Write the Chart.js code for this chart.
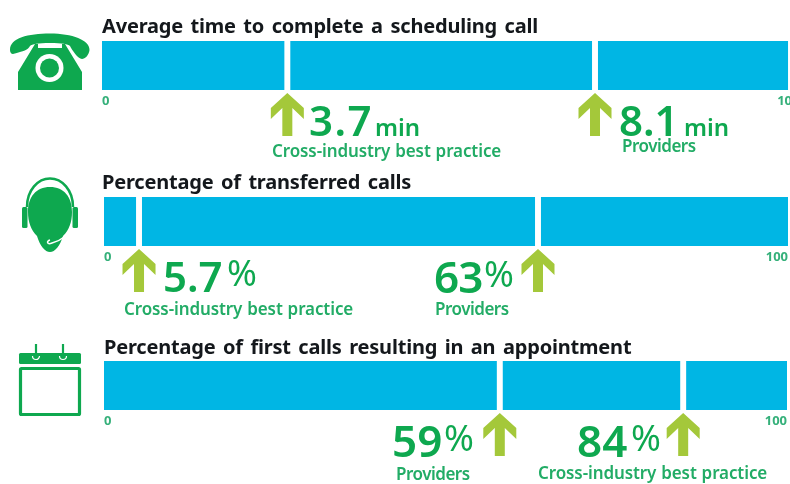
<!DOCTYPE html>
<html><head><meta charset="utf-8">
<script src="https://cdn.jsdelivr.net/npm/chart.js@4"></script>
<style>
html,body{margin:0;padding:0;background:#fff;width:790px;height:484px;overflow:hidden}
#stage{position:absolute;left:0;top:0;width:790px;height:484px;overflow:hidden;filter:blur(0.4px)}
canvas{position:absolute;left:0}
svg{position:absolute;left:0;top:0}
</style></head><body>
<div id="stage">
<svg width="790" height="484" viewBox="0 0 790 484">
  <g fill="#0EA84F">
    <path d="M10 50C10 38 28 33.5 50 33.5S90 40 89.5 50C89 55 85 59 82 59 78 59 72 50 70 46 68 44 62 43 50 43S32 44 30 46C28 50 24 51 13 54 11 54 10 52 10 50Z"/>
    <path d="M35 44H38V48H62V44H65L82 72V90H18V72Z"/>
  </g>
  <circle cx="49.5" cy="68" r="14" fill="#fff"/><circle cx="49.5" cy="68" r="9.5" fill="#0EA84F"/>

  <path fill="#0EA84F" d="M50 187C64 187 72 197 72 212 72 222 69 230 63 236 60 246 55 252 50 252 45 252 40 246 37 236 31 230 28 222 28 212 28 197 36 187 50 187Z"/>
  <path fill="none" stroke="#0EA84F" stroke-width="2.5" d="M27 207C27 190 38 178.5 50 178.5S73 190 73 207"/>
  <rect x="22" y="207" width="5.5" height="21" rx="1.5" fill="#0EA84F"/><rect x="72.5" y="207" width="5.5" height="21" rx="1.5" fill="#0EA84F"/>
  <path fill="none" stroke="#fff" stroke-width="1.5" d="M71 225C70 235 60 241 52 243 47 245 46 241 50 240"/>

  <rect x="19" y="353" width="62" height="11" rx="1.5" fill="#0EA84F"/>
  <rect x="20.5" y="368.5" width="59" height="46" rx="1" fill="#fff" stroke="#0EA84F" stroke-width="3.2"/>
  <path d="M36 344V358M63 344V358" stroke="#0EA84F" stroke-width="2.2" fill="none"/>
  <path d="M32.5 356a3.5 3.5 0 0 0 7 0M59.5 356a3.5 3.5 0 0 0 7 0" stroke="#fff" stroke-width="1.2" fill="none"/>
</svg>
<canvas id="c1"></canvas><canvas id="c2"></canvas><canvas id="c3"></canvas>
</div>
<script>
// ---- data ----
const titles = [
  "Average time to complete a scheduling call",
  "Percentage of transferred calls",
  "Percentage of first calls resulting in an appointment"
];
const axisMax = [10, 100, 100];
const axisTickLabels = [["0", "10"], ["0", "100"], ["0", "100"]];
// where each marker sits on its drawn bar, in axis units (the original graphic is not to scale in panel 1)
const markerAxisPositions1 = [2.686, 7.145];
const markerAxisPositions2 = [5.12, 63.45];
const markerAxisPositions3 = [57.95, 84.8];
const markerValues1 = ["3.7", "8.1"];
const markerValues2 = ["5.7", "63"];
const markerValues3 = ["59", "84"];
const markerUnits1 = ["min", "min"];
const markerUnits2 = ["%", "%"];
const markerUnits3 = ["%", "%"];
const markerCaptions1 = ["Cross-industry best practice", "Providers"];
const markerCaptions2 = ["Cross-industry best practice", "Providers"];
const markerCaptions3 = ["Providers", "Cross-industry best practice"];
const barEnd = [9.94, 100, 100];

// ---- layout and style ----
const CYAN = "#00B6E4", GREEN = "#0EA84F", LIGHTGREEN = "#22AC66", ARROW = "#A4C83A", TICK = "#35B07A";
const FONT = "'Noto Sans'";
const panels = [
  {id:"c1", left:102, right:792, top:41, titleX:102, titleY:33, vals:markerValues1, units:markerUnits1, caps:markerCaptions1, pos:markerAxisPositions1,
   place:[{vx:309,vs:42,vl:1.5,ux:375,by:136,cx:272,cy:157},{vx:619,vs:42,vl:0,ux:684,by:136,cx:622,cy:152}]},
  {id:"c2", left:104, right:788, top:197, titleX:102, titleY:189, vals:markerValues2, units:markerUnits2, caps:markerCaptions2, pos:markerAxisPositions2,
   place:[{vx:163,vs:42,vl:0,ux:227,by:292,cx:124,cy:315},{vx:434,vs:44,vl:-1,ux:484,by:293,cx:435,cy:315}]},
  {id:"c3", left:104, right:787, top:361, titleX:104, titleY:354, vals:markerValues3, units:markerUnits3, caps:markerCaptions3, pos:markerAxisPositions3,
   place:[{vx:392,vs:44,vl:0,ux:444,by:457,cx:396,cy:480},{vx:577,vs:44,vl:0,ux:631,by:457,cx:538,cy:479}]}
];
const BAR_H = 49, AXIS_H = 90, GAP = 3.3;

function arrow(ctx, x, apex, bottom) {
  ctx.fillStyle = ARROW;
  ctx.beginPath();
  ctx.moveTo(x, apex);
  ctx.lineTo(x + 16.5, apex + 15);
  ctx.lineTo(x + 16.5, apex + 26);
  ctx.lineTo(x + 5, apex + 15);
  ctx.lineTo(x + 5, bottom);
  ctx.lineTo(x - 5, bottom);
  ctx.lineTo(x - 5, apex + 15);
  ctx.lineTo(x - 16.5, apex + 26);
  ctx.lineTo(x - 16.5, apex + 15);
  ctx.closePath();
  ctx.fill();
}

panels.forEach((p, i) => {
  const cv = document.getElementById(p.id);
  const H = p.top + BAR_H + AXIS_H, W = 810;
  cv.width = W; cv.height = H; cv.style.top = "0px"; cv.style.width = W + "px"; cv.style.height = H + "px";
  const edges = [0, ...p.pos, barEnd[i]];
  const datasets = edges.slice(1).map((e, k) => ({
    data: [e - edges[k]],
    backgroundColor: CYAN,
    borderColor: "rgba(255,255,255,1)",
    borderSkipped: false,
    borderWidth: {top:0, bottom:0, left: k === 0 ? 0 : GAP, right: k === edges.length - 2 ? 0 : GAP},
    barPercentage: 1, categoryPercentage: 1
  }));
  const overlay = {
    id: "overlay",
    afterDraw(chart) {
      const ctx = chart.ctx, sx = chart.scales.x;
      ctx.save();
      ctx.textBaseline = "alphabetic"; ctx.textAlign = "left";
      ctx.fillStyle = "#14181c";
      ctx.font = "700 20px " + FONT;
      ctx.letterSpacing = "-0.19px"; ctx.wordSpacing = "2.5px";
      ctx.fillText(titles[i], p.titleX, p.titleY);
      ctx.wordSpacing = "0px";
      p.pos.forEach((v, k) => {
        const x = sx.getPixelForValue(v), pl = p.place[k];
        arrow(ctx, x, p.top + BAR_H + 3, p.top + BAR_H + 46);
        ctx.fillStyle = GREEN; ctx.letterSpacing = pl.vl + "px";
        ctx.font = "600 " + pl.vs + "px " + FONT;
        ctx.fillText(p.vals[k], pl.vx, pl.by);
        ctx.letterSpacing = "0px";
        const isPct = p.units[k] === "%";
        ctx.font = isPct ? "400 36px " + FONT : "600 24px " + FONT;
        ctx.fillText(p.units[k], pl.ux, isPct ? pl.by - 6 : pl.by);
        ctx.fillStyle = LIGHTGREEN;
        ctx.font = "600 17px " + FONT;
        const isLong = p.caps[k].length > 12;
        ctx.letterSpacing = isLong ? "-0.1px" : "-0.5px";
        ctx.wordSpacing = isLong ? "0.6px" : "0px";
        ctx.fillText(p.caps[k], pl.cx, pl.cy);
        ctx.wordSpacing = "0px";
      });
      ctx.restore();
    }
  };
  new Chart(cv, {
    type: "bar",
    data: {labels: [titles[i]], datasets},
    plugins: [overlay],
    options: {
      indexAxis: "y", responsive: false, animation: false,
      layout: {padding: {left: p.left, right: W - p.right, top: p.top, bottom: 0}},
      plugins: {legend: {display: false}, title: {display: false}, tooltip: {enabled: false}},
      scales: {
        y: {display: false, stacked: true},
        x: {
          stacked: true, min: 0, max: axisMax[i],
          grid: {display: false, drawTicks: false}, border: {display: false},
          afterBuildTicks: s => { s.ticks = [{value: 0}, {value: axisMax[i]}]; },
          afterFit: s => { s.height = AXIS_H; },
          ticks: {
            align: "inner", maxRotation: 0, autoSkip: false, padding: 3,
            color: TICK, font: {family: "'Noto Sans'", size: 13, weight: "700"},
            callback: (v, idx) => axisTickLabels[i][idx]
          }
        }
      }
    }
  });
});
</script>
</body></html>
